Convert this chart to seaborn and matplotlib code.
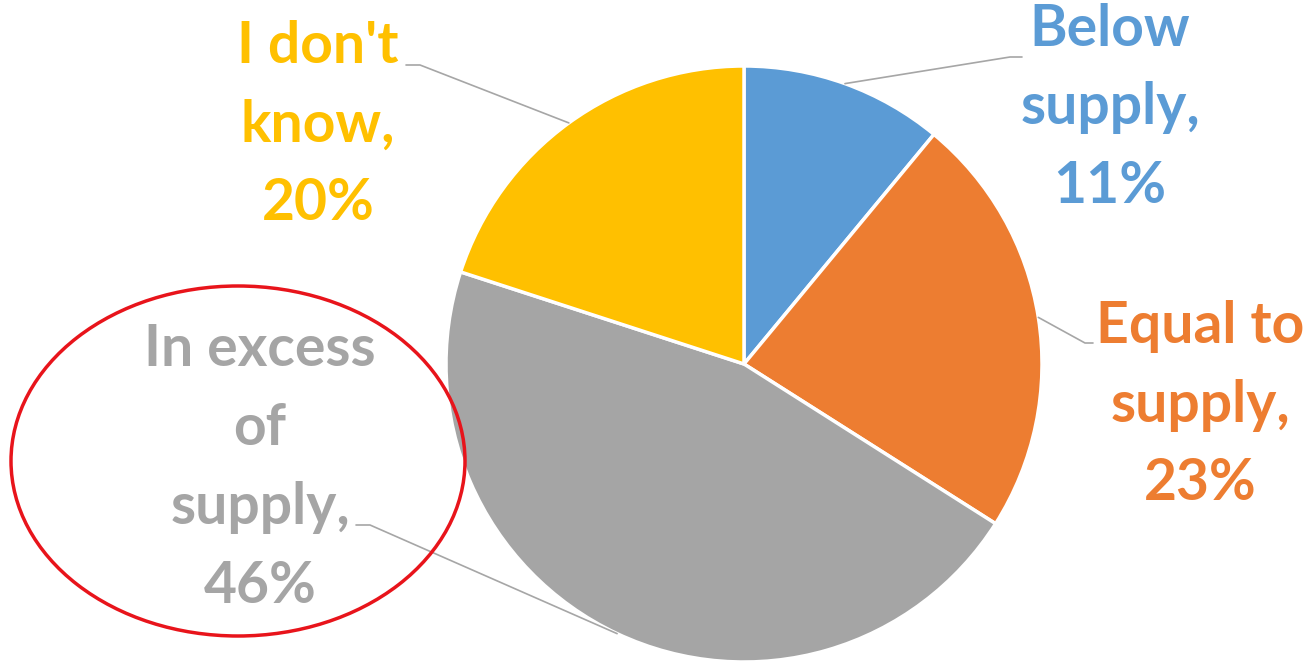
import numpy as np
import matplotlib
matplotlib.use("Agg")
import matplotlib.pyplot as plt
from matplotlib.patches import Ellipse
import seaborn as sns

sns.set_theme(style="white")
plt.rcParams['font.family'] = ['Lato', 'DejaVu Sans']

labels = ["Below\nsupply,\n11%", "Equal to\nsupply,\n23%", "In excess\nof\nsupply,\n46%", "I don't\nknow,\n20%"]
shares = [11, 23, 46, 20]
colors = ["#5B9BD5", "#ED7D31", "#A5A5A5", "#FFC000"]

# label anchor positions (pixel space, y measured from the bottom)
label_xy = [(1110, 554), (1200, 257), (260, 194), (318, 537)]
# elbow of each leader line and the short horizontal end next to the text
elbow_xy = [(1010, 605), (1085, 319), (370, 137), (420, 597)]
end_xy = [(1022, 605), (1093, 319), (356, 137), (406, 597)]

W, H = 1313, 662
fig = plt.figure(figsize=(W / 100, H / 100), dpi=100)
ax = fig.add_axes([0, 0, 1, 1])

cx, cy, r = 744, 298, 298
wedges, _ = ax.pie(shares, colors=colors, startangle=90, counterclock=False,
                   center=(cx, cy), radius=r, frame=True,
                   wedgeprops=dict(edgecolor="white", linewidth=2.5))
ax.set_xlim(0, W)
ax.set_ylim(0, H)
ax.set_aspect("equal")
ax.axis("off")

for w, lab, col, (tx, ty), (ex, ey), (hx, hy) in zip(wedges, labels, colors, label_xy, elbow_xy, end_xy):
    mid = np.deg2rad((w.theta1 + w.theta2) / 2)
    px, py = cx + r * np.cos(mid), cy + r * np.sin(mid)
    ax.plot([px, ex, hx], [py, ey, hy], color="#A6A6A6", lw=1.2, zorder=1)
    ax.text(tx, ty, lab, color=col, fontsize=41, fontweight="bold",
            ha="center", va="center", linespacing=1.6)

ax.add_patch(Ellipse((238, 201), 454, 350, fill=False, edgecolor="#E8141B", lw=2.5))

fig.savefig("out.png", dpi=100, facecolor="white")
